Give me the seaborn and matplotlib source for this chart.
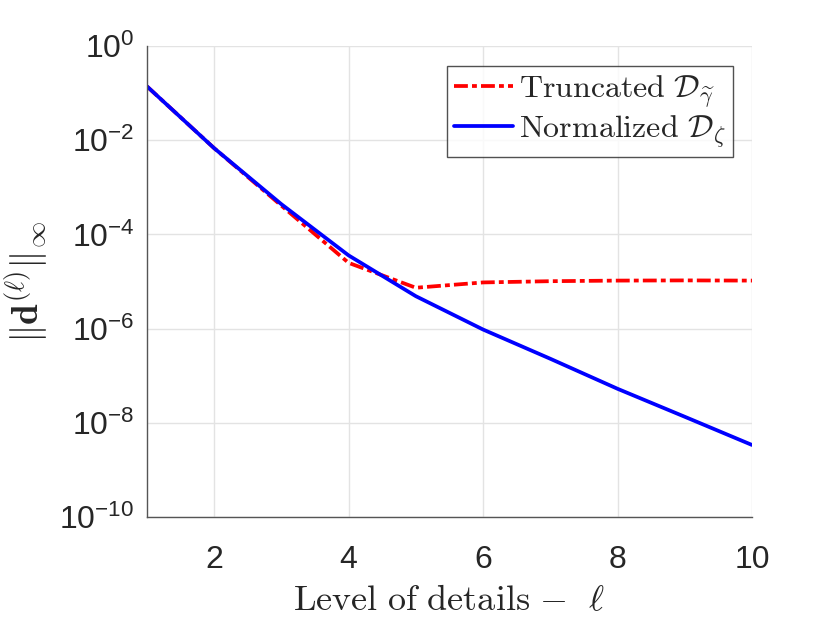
import numpy as np
import pandas as pd
import matplotlib
matplotlib.use("Agg")
import matplotlib.pyplot as plt
import matplotlib.ticker as mticker
import seaborn as sns

# ---- data ----
levels = [1, 2, 3, 4, 5, 6, 7, 8, 9, 10]
truncated = [0.14, 6.8e-3, 4.1e-4, 2.5e-5, 7.4e-6, 9.6e-6, 1.02e-5, 1.05e-5, 1.06e-5, 1.05e-5]
normalized = [0.14, 6.8e-3, 4.4e-4, 3.6e-5, 4.9e-6, 9.6e-7, 2.3e-7, 5.3e-8, 1.35e-8, 3.4e-9]
series_labels = [r'$\mathrm{Truncated}\ \mathcal{D}_{\widetilde{\gamma}}$',
                 r'$\mathrm{Normalized}\ \mathcal{D}_{\zeta}$']
x_ticks = [2, 4, 6, 8, 10]
y_ticks = [1e-10, 1e-8, 1e-6, 1e-4, 1e-2, 1e0]
y_tick_labels = [r'$\mathdefault{10^{-10}}$', r'$\mathdefault{10^{-8}}$', r'$\mathdefault{10^{-6}}$',
                 r'$\mathdefault{10^{-4}}$', r'$\mathdefault{10^{-2}}$', r'$\mathdefault{10^{0}}$']
x_label = r'$\mathrm{Level\ of\ details}\ {-}\ \ \ell$'
y_label = r'$\Vert\mathbf{d}^{(\ell)}\Vert_\infty$'

sns.set_theme(style="white")
plt.rcParams['font.family'] = ['Liberation Sans', 'DejaVu Sans']
plt.rcParams['mathtext.fontset'] = 'cm'

df = pd.DataFrame({
    'level': levels * 2,
    'value': truncated + normalized,
    'series': [series_labels[0]] * len(levels) + [series_labels[1]] * len(levels),
})

fig = plt.figure(figsize=(8.3, 6.23), dpi=100)
ax = fig.add_axes([0.177, 0.170, 0.729, 0.756])

sns.lineplot(data=df[df.series == series_labels[0]], x='level', y='value', ax=ax,
             color='#ff0000', lw=2.7, label=series_labels[0], dashes=False)
sns.lineplot(data=df[df.series == series_labels[1]], x='level', y='value', ax=ax,
             color='#0000ff', lw=2.7, label=series_labels[1], dashes=False)
ax.lines[0].set_dashes((3.7, 1.1, 1.3, 1.1))

ax.set_yscale('log')
ax.set_xlim(1, 10)
ax.set_ylim(1e-10, 1e0)
ax.set_xticks(x_ticks)
ax.set_xticklabels([str(t) for t in x_ticks])
ax.yaxis.set_major_locator(mticker.FixedLocator(y_ticks))
ax.yaxis.set_minor_locator(mticker.NullLocator())
ax.set_yticklabels(y_tick_labels)

ax.grid(True, which='major', color='#e3e3e3', lw=1.0)
ax.set_axisbelow(True)
for s in ['top', 'right']:
    ax.spines[s].set_visible(False)
for s in ['left', 'bottom']:
    ax.spines[s].set_color('#555555')
    ax.spines[s].set_linewidth(1.0)
ax.tick_params(axis='both', direction='in', length=6, width=1.0, color='#555555',
               labelsize=23, labelcolor='#262626', pad=9)
ax.tick_params(axis='x', pad=20)

ax.set_xlabel(x_label, fontsize=26, color='#262626', labelpad=6)
ax.set_ylabel(y_label, fontsize=27, color='#262626', labelpad=7)

leg = ax.legend(loc='upper right', bbox_to_anchor=(0.969, 0.957), fontsize=23,
                frameon=True, fancybox=False, handlelength=1.85, handletextpad=0.2,
                borderpad=0.22, labelspacing=0.1, borderaxespad=0)
leg.get_frame().set_edgecolor('#262626')
leg.get_frame().set_linewidth(1.0)

fig.savefig('out.png', dpi=100)
